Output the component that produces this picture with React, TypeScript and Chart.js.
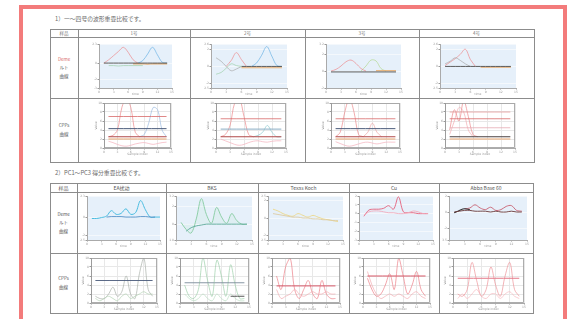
import React, { useEffect, useRef } from 'react';
import { Chart, registerables } from 'chart.js';
Chart.register(...registerables);

const N = null;

// shared x tick labels
const xLabels = ['0', '1', '2', '3', '4', '5', '6', '7', '8', '9', '10', '11', '12', '13', '14', '15'];

// ---------- Table 1, row 1 (smoothed curves) ----------
const s1aRed = [N, 0, 0.4, 0.9, 1.4, 1.9, 1.3, 0.4, 0, N, N, N, N, N, N, N];
const s1aBlue = [N, N, N, N, N, N, N, N, 0, 0.3, 1.1, 1.9, 1.0, 0.1, 0, N];
const s1aGreen = [N, N, -0.3, -0.3, -0.35, -0.3, -0.3, -0.3, -0.3, -0.3, N, N, N, N, N, N];
const s1aOrange = [N, N, N, N, N, N, N, -0.1, -0.1, -0.1, -0.12, -0.1, -0.1, -0.1, -0.1, N];
const s1aBlack = [N, 0, 0, 0, 0, 0, 0, 0, 0, 0, 0, 0, 0, 0, 0, N];

const s1bGreen = [N, -0.9, -0.7, -0.2, 0.3, 0.1, 0, N, N, N, N, N, N, N, N, N];
const s1bGray = [N, 1.0, 0.6, 0, -0.5, -0.3, 0, N, N, N, N, N, N, N, N, N];
const s1bRed = [N, N, N, 0, 0.7, 1.6, 0.8, 0, N, N, N, N, N, N, N, N];
const s1bBlue = [N, N, N, N, N, N, N, N, 0, 0.4, 1.3, 2.3, 1.2, 0.1, 0, N];
const s1bOrange = [N, N, N, N, N, N, -0.15, -0.15, -0.15, -0.15, -0.15, -0.15, -0.15, -0.15, -0.15, N];
const s1bBlack = [N, N, N, N, N, N, 0, 0, 0, 0, 0, 0, 0, 0, 0, N];

const s1cRed = [N, 0, 0.2, 0.6, 1.1, 1.3, 0.9, 0.3, 0, N, N, N, N, N, N, N];
const s1cGreen = [N, N, N, N, N, N, N, 0, 0.6, 1.3, 1.2, 0.3, 0, N, N, N];
const s1cBlack = [N, -0.1, -0.1, -0.1, -0.1, -0.1, -0.1, -0.1, -0.1, -0.1, -0.1, -0.1, -0.1, -0.1, -0.1, N];
const s1cOrange = [N, N, N, N, N, N, N, N, N, N, 0.05, 0.05, 0.05, 0.05, 0.05, N];

const s1dRed = [N, 0.1, 0.5, 0.9, 1.4, 2.0, 0.8, 0, N, N, N, N, N, N, N, N];
const s1dGray = [N, 0.3, 0.6, 1.0, 0.7, 0.3, 0, N, N, N, N, N, N, N, N, N];
const s1dBlack = [N, 0, 0, 0, 0, 0, 0, 0, 0, 0, 0, 0, 0, 0, 0, N];
const s1dOrange = [N, N, N, N, N, N, N, N, -0.1, -0.1, -0.1, -0.1, -0.1, -0.1, -0.1, N];

// ---------- Table 1, row 2 (CPPs curves) ----------
const c1aPeakA = [N, 2.5, 2.8, 4, 9, 11, 9, 3.5, 2.5, N, N, N, N, N, N, N];
const c1aPeakB = [N, N, N, N, N, N, N, N, 2.5, 3, 5.5, 9, 8.5, 4, 2.5, N];
const c1aHi = [N, 7, N, N, N, N, N, N, N, N, N, N, N, N, 7, N];
const c1aMid = [N, 4.3, N, N, N, N, N, N, N, N, N, N, N, N, 4.3, N];
const c1aBand1 = [N, 2.5, N, N, N, N, N, N, N, N, N, N, N, N, 2.5, N];
const c1aBand2 = [N, 2.0, N, N, N, N, N, N, N, N, N, N, N, N, 2.0, N];
const c1aLow = [N, 1.5, 1.2, 0.8, 0.5, 0.4, 0.6, 0.9, 1.1, 1.2, 1.0, 0.8, 1.0, 1.2, 1.3, N];

const c1bPeakA = [N, 2.5, 3, 5, 10, 11, 7, 3, 2.5, N, N, N, N, N, N, N];
const c1bPeakB = [N, N, N, N, N, N, N, N, 2.5, 2.8, 3.5, 5, 3.5, 2.5, 2.5, N];
const c1bHi = [N, 6.5, N, N, N, N, N, N, N, N, N, N, N, N, 6.5, N];
const c1bMid = [N, 4.2, N, N, N, N, N, N, N, N, N, N, N, N, 4.2, N];
const c1bBand1 = [N, 2.5, N, N, N, N, N, N, N, N, N, N, N, N, 2.5, N];
const c1bLow = [N, 2, 1.6, 1.2, 0.8, 0.6, 0.8, 1.2, 1.5, 1.6, 1.4, 1.3, 1.5, 1.6, 1.6, N];

const c1cPeakA = [N, 2.5, 3.5, 8, 11, 8, 3, 2.5, N, N, N, N, N, N, N, N];
const c1cPeakB = [N, N, N, N, N, N, N, 2.5, 3.5, 5.5, 3.5, 2.5, N, N, N, N];
const c1cHi = [N, 6.5, N, N, N, N, N, N, N, N, N, N, N, N, 6.5, N];
const c1cMid = [N, 4.3, N, N, N, N, N, N, N, N, N, N, N, N, 4.3, N];
const c1cBand1 = [N, 2.5, N, N, N, N, N, N, N, N, N, N, N, N, 2.5, N];
const c1cBand2 = [N, 2.0, N, N, N, N, N, N, N, N, N, N, N, N, 2.0, N];
const c1cLow = [N, 1.4, 1.0, 0.6, 0.4, 0.6, 0.9, 1.2, 1.3, 1.1, 0.9, 1.1, 1.3, 1.3, 1.3, N];

const c1dPeakA = [N, 4, 8.5, 6, 10.5, 7, 3, 2.5, N, N, N, N, N, N, N, N];
const c1dPeakB = [N, 3, 6, 9, 8, 4, 2.5, N, N, N, N, N, N, N, N, N];
const c1dHi = [N, 8, N, N, N, N, N, N, N, N, N, N, N, N, 8, N];
const c1dHi2 = [N, 6.5, N, N, N, N, N, N, N, N, N, N, N, N, 6.5, N];
const c1dMid = [N, 4.5, N, N, N, N, N, N, N, N, N, N, N, N, 4.5, N];
const c1dBand1 = [N, 2.5, N, N, N, N, N, N, N, N, N, N, N, N, 2.5, N];
const c1dBand2 = [N, 2.0, N, N, N, N, N, N, N, N, N, N, N, N, 2.0, N];

// ---------- Table 2, row 1 (smoothed PC curves) ----------
const s2aCyan = [N, -0.15, -0.15, -0.05, 0.1, 0.7, 0.3, 0.4, 0.9, 0.3, 0.5, 1.8, 0.8, 0, 0, 0];
const s2aBlue = [N, N, N, N, 0, 0.05, 0.05, 0.05, 0, 0, 0, 0.05, 0.05, 0, 0, N];

const s2bGreen = [N, 0.2, -0.6, -1.0, 0.6, 2.9, 1.1, 0.1, 1.9, 0.8, 0.1, 1.2, 0.4, 0, 0, N];
const s2bTeal = [N, N, -0.8, -0.4, -0.2, -0.1, 0, 0, 0, 0, 0, 0, 0, 0, 0, N];

const s2cYellow = [N, 1.0, 0.8, 0.5, 0.3, 0.2, 0.5, 0.3, 0.1, 0.3, 0.1, -0.1, -0.2, -0.3, -0.4, N];
const s2cBeige = [N, 0.5, 0.4, 0.3, 0.2, 0.1, 0.1, 0, 0, -0.1, -0.1, -0.2, -0.2, -0.3, -0.3, N];

const s2dRed = [N, -0.3, 0.4, 0.5, 0.5, 0.6, 0.9, 0.5, 1.9, 0.2, 0.1, 0.1, 0, 0, 0, N];
const s2dPink = [N, -0.2, 0.2, 0.3, 0.3, 0.2, 0.1, 0.1, 0, 0, 0.1, 0.3, 0.2, 0, 0, N];

const s2eBlack = [N, -0.1, 0.2, 0.4, 0.3, N, N, N, N, N, N, N, N, N, N, N];
const s2eRed = [N, N, N, 0.4, 0.5, 0.9, 0.5, 0.3, 0.6, 0.2, 0.3, 0.7, 0.8, 0.2, 0.1, N];
const s2eDark = [N, 0, 0.1, 0.2, 0.2, 0.1, 0.1, 0.1, 0, 0.1, 0, 0, 0.1, 0, 0, N];

// ---------- Table 2, row 2 (PC CPPs curves) ----------
const c2aGray = [N, 1.5, 1.0, 1.0, 2.0, 3.5, 1.5, 2.5, 6.0, 2.0, 1.0, 6.5, 10, 3.0, 1.5, N];
const c2aGreen = [N, 1.0, 0.5, 1.0, 1.5, 1.0, 0.5, 1.5, 2.0, 1.0, 1.5, 2.0, 2.5, 2.0, 2.0, N];
const c2aMid = [N, 5, N, N, N, N, N, N, N, N, N, N, N, N, 5, N];

const c2bGreen = [N, 4, 1.5, 1, 3, 10, 5, 1.5, 9.5, 6, 1.5, 8.5, 4, 1, 1, N];
const c2bGreen2 = [N, 2, 1, 0.5, 1, 2, 1, 0.5, 2, 1, 0.5, 2, 1, 0.5, 0.5, N];
const c2bMid = [N, 4.5, N, N, N, N, N, N, N, N, N, N, N, N, 4.5, N];
const c2bLow = [N, N, N, N, N, N, N, N, N, N, N, 1.5, N, N, 1.5, N];

const c2cRed = [N, 6, 3, 8, 10, 3, 1, 3, 5, 2, 1, 5, 2, 1, 1, N];
const c2cRed2 = [N, 3, 1, 1.5, 2, 3, 2, 1.5, 2, 2.5, 2, 2, 2.5, 2, 2, N];
const c2cMid = [N, 3.8, N, N, N, N, N, N, N, N, N, N, N, N, 3.8, N];

const c2dRed = [N, 5.5, 3, 1.5, 2, 4, 6.5, 3, 10, 6, 2, 4, 7, 3, 1.5, N];
const c2dRed2 = [N, 7, 4, 2, 1, 1.5, 2, 1.5, 2, 1.5, 1, 2, 2.5, 1.5, 1, N];
const c2dMid = [N, 6, N, N, N, N, N, N, N, N, N, N, N, N, 6, N];

const c2eRed = [N, 2, 1.5, 3, 9, 5, 1.5, 3, 8, 4, 1.5, 6, 9, 3, 1.5, N];
const c2eRed2 = [N, 1, 2, 1, 2, 3, 1.5, 1, 2, 2, 1, 2, 2.5, 1.5, 1, N];
const c2eMid = [N, 5.5, N, N, N, N, N, N, N, N, N, N, N, N, 5.5, N];

// ---------- text ----------
const title1 = '1）一〜四号の波形重畳比較です。';
const title2 = '2）PC1〜PC3 得分重畳比較です。';
const t1Headers = ['样品', '1号', '2号', '3号', '4号'];
const t2Headers = ['样品', 'EA扰动', 'BKS', 'Texas Koch', 'Cu', 'Abba Base 60'];

// ---------- layout ----------
const T1X = [50, 78, 190, 305, 419, 534];
const T1Y = [29, 37, 98, 162];
const T2X = [50, 77, 166, 258, 349, 439, 533];
const T2Y = [183, 192, 253, 313];

type S = { data: (number | null)[]; color: string; width?: number; span?: boolean; fill?: string };
const L = (data: (number | null)[], color: string, width = 0.7, fill?: string): S => ({ data, color, width, fill });
const H = (data: (number | null)[], color: string, width = 0.8): S => ({ data, color, width, span: true });

const bgPlugin = {
  id: 'bg',
  beforeDraw(chart: any, _a: any, opts: any) {
    const { ctx, chartArea: a } = chart;
    ctx.save();
    ctx.fillStyle = opts.color;
    ctx.fillRect(a.left, a.top, a.right - a.left, a.bottom - a.top);
    ctx.restore();
  },
  afterDraw(chart: any, _a: any, opts: any) {
    if (!opts.frame) return;
    const { ctx, chartArea: a } = chart;
    ctx.save();
    ctx.strokeStyle = '#999';
    ctx.lineWidth = 0.8;
    ctx.strokeRect(a.left + 0.5, a.top + 0.5, a.right - a.left - 1, a.bottom - a.top - 1);
    ctx.restore();
  },
};

type MiniProps = {
  cell: number[];
  inset: number[];
  kind: 'blue' | 'box';
  series: S[];
  yMin: number;
  yMax: number;
};

function Mini({ cell, inset, kind, series, yMin, yMax }: MiniProps) {
  const ref = useRef<HTMLCanvasElement>(null);
  useEffect(() => {
    const YW = kind === 'box' ? 10 : 7;
    const XH = 8;
    const tickFont = { size: 3, family: 'DejaVu Sans' };
    const chart = new Chart(ref.current!, {
      type: 'line',
      data: {
        labels: xLabels,
        datasets: series.map((s) => ({
          data: s.data,
          borderColor: s.color,
          borderWidth: s.width ?? 0.7,
          pointRadius: 0,
          tension: 0.35,
          spanGaps: !!s.span,
          fill: s.fill ? 'origin' : false,
          backgroundColor: s.fill || 'transparent',
        })),
      },
      options: {
        responsive: false,
        animation: false,
        events: [],
        layout: {
          padding: { left: inset[0] - YW, top: inset[1], right: inset[2], bottom: inset[3] - XH },
        },
        plugins: {
          legend: { display: false },
          tooltip: { enabled: false },
          bg: { color: kind === 'blue' ? '#e6f0fa' : '#ffffff', frame: kind === 'box' },
        } as any,
        scales: {
          x: {
            afterFit: (s: any) => {
              s.height = XH;
            },
            ticks: { font: tickFont, color: '#999', maxRotation: 0, autoSkip: true, maxTicksLimit: 7, padding: 0.5 },
            grid: { display: true, drawOnChartArea: kind === 'box', color: '#e8e8e8', tickLength: 1.5, tickColor: '#999' },
            border: { color: '#aaa' },
            title: { display: true, text: kind === 'blue' ? 'time' : 'Sample index', font: tickFont, color: '#999', padding: 0 },
          },
          y: {
            min: yMin,
            max: yMax,
            afterFit: (s: any) => {
              s.width = YW;
            },
            ticks: { font: tickFont, color: '#999', maxTicksLimit: 6, padding: 0.5 },
            grid: { color: kind === 'blue' ? '#f4f8fc' : '#e8e8e8', tickLength: 1.5, tickColor: '#999' },
            border: { color: '#aaa' },
            title: { display: kind === 'box', text: 'Value', font: tickFont, color: '#888', padding: 0 },
          },
        },
      } as any,
      plugins: [bgPlugin],
    });
    return () => chart.destroy();
  }, []);
  return (
    <canvas
      ref={ref}
      width={cell[2]}
      height={cell[3]}
      style={{ position: 'absolute', left: cell[0], top: cell[1], width: cell[2], height: cell[3] }}
    />
  );
}

const red = '#ec8a8c';
const blue = '#6ab2e4';
const green = '#9ed0aa';
const orange = '#e8ae70';
const black = '#4a4a4a';
const gray = '#a8a8a8';

const t1Row1: { series: S[]; yMin: number; yMax: number }[] = [
  { series: [L(s1aGreen, green), L(s1aBlack, black, 0.9), L(s1aOrange, orange, 1.1), L(s1aRed, red), L(s1aBlue, blue)], yMin: -3, yMax: 2.3 },
  { series: [L(s1bGreen, green), L(s1bGray, gray), L(s1bBlack, black, 0.9), L(s1bOrange, orange, 1.1), L(s1bRed, red), L(s1bBlue, blue)], yMin: -2.5, yMax: 2.6 },
  { series: [L(s1cBlack, black, 0.9), L(s1cOrange, orange, 1), L(s1cRed, red), L(s1cGreen, '#b4d890')], yMin: -2, yMax: 3.2 },
  { series: [L(s1dBlack, black, 0.9), L(s1dOrange, orange, 1.1), L(s1dGray, gray), L(s1dRed, red)], yMin: -2.5, yMax: 2.6 },
];

const t1Row2: { series: S[]; yMin: number; yMax: number }[] = [
  { series: [H(c1aHi, '#d86a6a'), H(c1aMid, '#4a5a7a', 1), H(c1aBand1, '#b04848', 1.1), H(c1aBand2, '#e8a670', 1), L(c1aLow, '#f4b0bc'), L(c1aPeakA, red), L(c1aPeakB, '#9cbae0')], yMin: 0, yMax: 10 },
  { series: [H(c1bHi, '#d86a6a'), H(c1bMid, '#8aaec4', 1), H(c1bBand1, '#b04848', 1.1), L(c1bLow, '#f4b0bc'), L(c1bPeakA, red), L(c1bPeakB, '#8ccad0')], yMin: 0, yMax: 10 },
  { series: [H(c1cHi, '#d86a6a'), H(c1cMid, '#4a5a7a', 1), H(c1cBand1, '#b04848', 1.1), H(c1cBand2, '#e8a670', 1), L(c1cLow, '#f4b0bc'), L(c1cPeakA, red), L(c1cPeakB, '#eca4a4')], yMin: 0, yMax: 10 },
  { series: [H(c1dHi, '#e69a9a'), H(c1dHi2, '#d86a6a'), H(c1dMid, '#e6acb4'), H(c1dBand1, '#4a4040', 1.1), H(c1dBand2, '#e8a670', 1), L(c1dPeakA, red), L(c1dPeakB, '#f2acb2')], yMin: 0, yMax: 10 },
];

const t2Row1: { series: S[]; yMin: number; yMax: number }[] = [
  { series: [L(s2aBlue, '#4a8ac4', 0.9), L(s2aCyan, '#4abce0', 1)], yMin: -2.5, yMax: 2.3 },
  { series: [L(s2bTeal, '#5aa898', 0.9), L(s2bGreen, '#86cca0', 0.9, 'rgba(170,225,190,0.13)')], yMin: -1.8, yMax: 3.2 },
  { series: [L(s2cBeige, '#dccca4', 0.9), L(s2cYellow, '#ecd88a', 0.9)], yMin: -2.5, yMax: 2.5 },
  { series: [L(s2dPink, '#f2acbc', 0.9), L(s2dRed, '#e4607a', 0.9)], yMin: -3, yMax: 2 },
  { series: [L(s2eDark, '#6a3a3a', 0.9), L(s2eBlack, '#333', 1.1), L(s2eRed, '#c86070', 0.9)], yMin: -3.5, yMax: 2 },
];

const t2Row2: { series: S[]; yMin: number; yMax: number }[] = [
  { series: [H(c2aMid, '#4a5a7a', 0.9), L(c2aGreen, '#b4d2b4'), L(c2aGray, '#aab2aa')], yMin: 0, yMax: 10 },
  { series: [H(c2bMid, '#7a8a9a', 0.9), H(c2bLow, '#444', 0.9), L(c2bGreen2, '#bcdec4'), L(c2bGreen, '#9ed0aa')], yMin: 0, yMax: 10 },
  { series: [H(c2cMid, '#d85868', 1), L(c2cRed2, '#f2acb2'), L(c2cRed, '#ec8088')], yMin: 0, yMax: 10 },
  { series: [H(c2dMid, '#d85868', 1), L(c2dRed2, '#f2acb2'), L(c2dRed, '#ec8088')], yMin: 0, yMax: 10 },
  { series: [H(c2eMid, '#e47888', 1), L(c2eRed2, '#f6bac0'), L(c2eRed, '#ee949a')], yMin: 0, yMax: 10 },
];

const lineColor = '#8c8c8c';

function Grid({ xs, ys }: { xs: number[]; ys: number[] }) {
  const x0 = xs[0];
  const x1 = xs[xs.length - 1];
  const y0 = ys[0];
  const y1 = ys[ys.length - 1];
  return (
    <>
      {ys.map((y, i) => (
        <div key={'h' + i} style={{ position: 'absolute', left: x0, top: y, width: x1 - x0 + 1, height: 1, background: lineColor }} />
      ))}
      {xs.map((x, i) => (
        <div key={'v' + i} style={{ position: 'absolute', left: x, top: y0, width: 1, height: y1 - y0, background: lineColor }} />
      ))}
    </>
  );
}

function Txt({ x, y, w, h, children, size = 5, color = '#555', align = 'center' }: any) {
  return (
    <div
      style={{
        position: 'absolute',
        left: x,
        top: y,
        width: w,
        height: h,
        display: 'flex',
        flexDirection: 'column',
        alignItems: align === 'center' ? 'center' : 'flex-start',
        justifyContent: 'center',
        fontSize: size,
        lineHeight: 1.9,
        color,
        whiteSpace: 'nowrap',
      }}
    >
      {children}
    </div>
  );
}

export default function App() {
  const cell = (xs: number[], ys: number[], c: number, r: number) => [xs[c], ys[r], xs[c + 1] - xs[c], ys[r + 1] - ys[r]];
  return (
    <div
      style={{
        position: 'fixed',
        left: 0,
        top: 0,
        width: 581,
        height: 319,
        background: '#ffffff',
        overflow: 'hidden',
        fontFamily: '"Noto Sans CJK SC", "Noto Sans CJK JP", sans-serif',
        filter: 'blur(0.65px)',
      }}
    >
      <div
        style={{
          position: 'absolute',
          left: 19,
          top: 5,
          width: 548,
          height: 340,
          border: '4px solid #f37b7b',
          boxSizing: 'border-box',
        }}
      />
      <Txt x={55} y={13} w={140} h={10} size={5.8} color="#6a6a6a" align="left">{title1}</Txt>
      <Txt x={55} y={167} w={140} h={10} size={5.8} color="#6a6a6a" align="left">{title2}</Txt>

      <Grid xs={T1X} ys={T1Y} />
      {t1Headers.map((t, i) => {
        const c = cell(T1X, T1Y, i, 0);
        return <Txt key={'t1h' + i} x={c[0]} y={c[1]} w={c[2]} h={c[3]} size={4.5} color="#777">{t}</Txt>;
      })}
      <Txt x={T1X[0]} y={T1Y[1]} w={T1X[1] - T1X[0]} h={T1Y[2] - T1Y[1]} size={4.5}>
        <span style={{ color: '#d86a6a' }}>Deme</span>
        <span>ルト</span>
        <span>曲線</span>
      </Txt>
      <Txt x={T1X[0]} y={T1Y[2]} w={T1X[1] - T1X[0]} h={T1Y[3] - T1Y[2]} size={4.5}>
        <span>CPPs</span>
        <span>曲線</span>
      </Txt>
      {t1Row1.map((c, i) => (
        <Mini key={'a' + i} cell={cell(T1X, T1Y, i + 1, 1)} inset={[21, 7, 18, 10]} kind="blue" series={c.series} yMin={c.yMin} yMax={c.yMax} />
      ))}
      {t1Row2.map((c, i) => (
        <Mini key={'b' + i} cell={cell(T1X, T1Y, i + 1, 2)} inset={[26, 5, 19, 14]} kind="box" series={c.series} yMin={c.yMin} yMax={c.yMax} />
      ))}

      <Grid xs={T2X} ys={T2Y} />
      {t2Headers.map((t, i) => {
        const c = cell(T2X, T2Y, i, 0);
        return <Txt key={'t2h' + i} x={c[0]} y={c[1]} w={c[2]} h={c[3]} size={5} color="#555">{t}</Txt>;
      })}
      <Txt x={T2X[0]} y={T2Y[1]} w={T2X[1] - T2X[0]} h={T2Y[2] - T2Y[1]} size={4.5}>
        <span>Deme</span>
        <span>ルト</span>
        <span>曲線</span>
      </Txt>
      <Txt x={T2X[0]} y={T2Y[2]} w={T2X[1] - T2X[0]} h={T2Y[3] - T2Y[2]} size={4.5}>
        <span>CPPs</span>
        <span>曲線</span>
      </Txt>
      {t2Row1.map((c, i) => (
        <Mini key={'c' + i} cell={cell(T2X, T2Y, i + 1, 1)} inset={[10, 4, 6, 13]} kind="blue" series={c.series} yMin={c.yMin} yMax={c.yMax} />
      ))}
      {t2Row2.map((c, i) => (
        <Mini key={'d' + i} cell={cell(T2X, T2Y, i + 1, 2)} inset={[14, 5, 9, 10]} kind="box" series={c.series} yMin={c.yMin} yMax={c.yMax} />
      ))}
    </div>
  );
}
